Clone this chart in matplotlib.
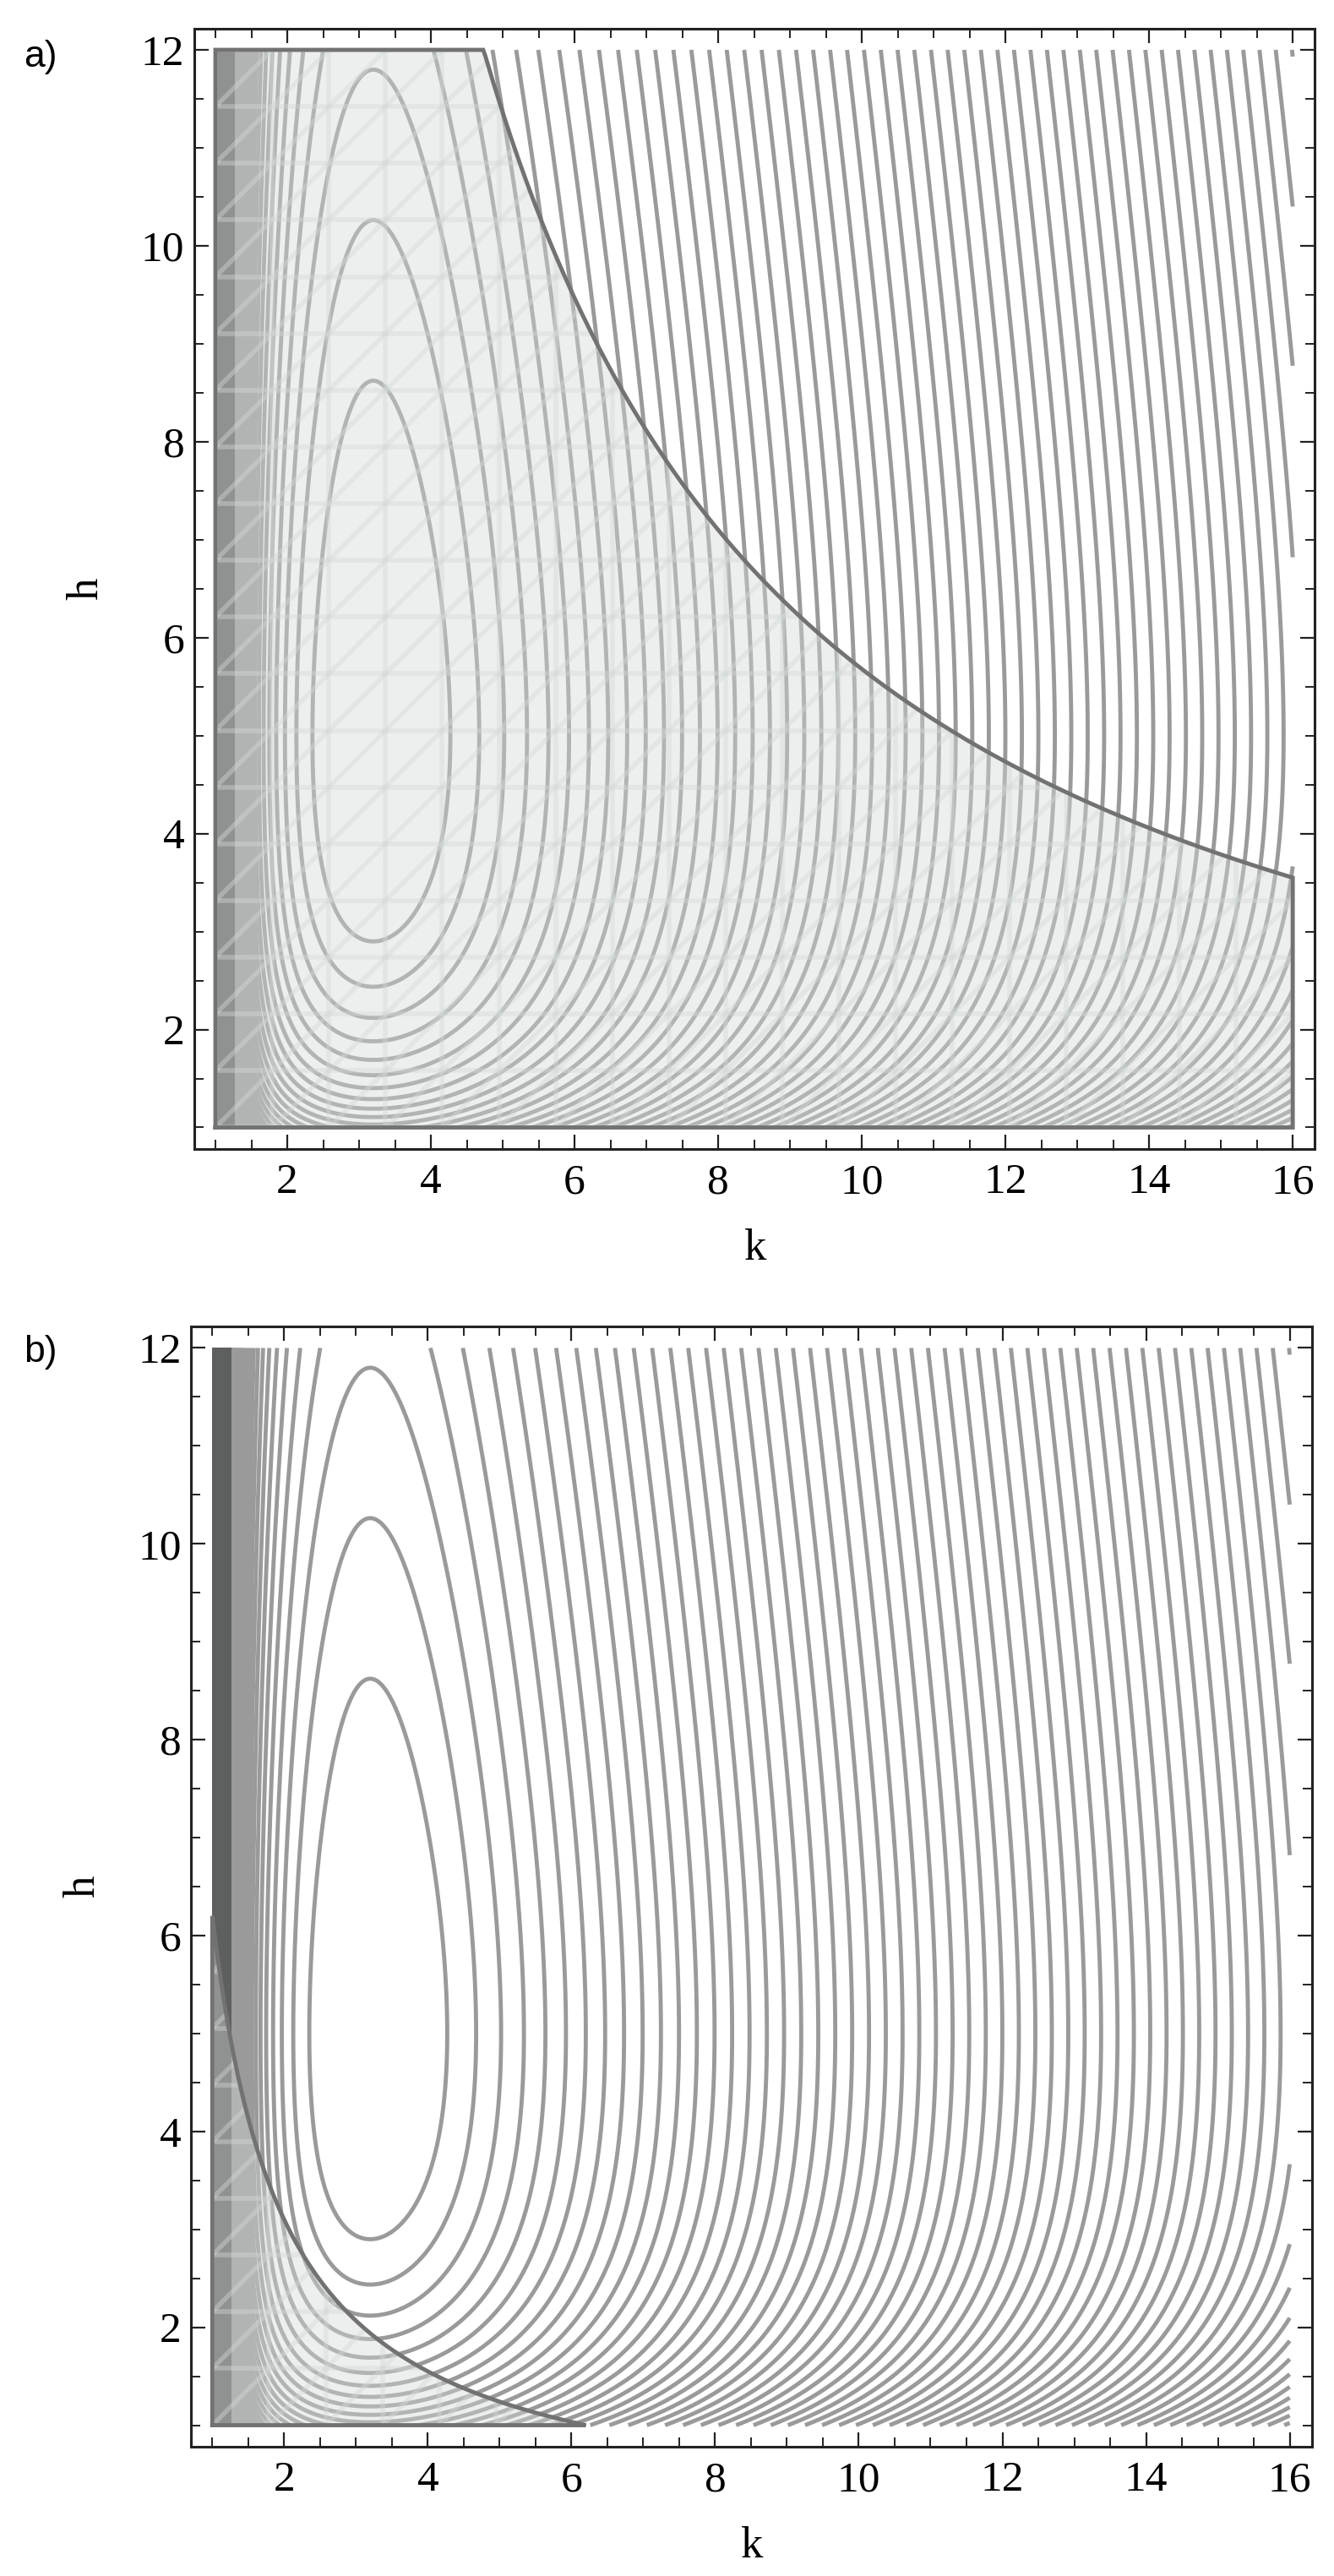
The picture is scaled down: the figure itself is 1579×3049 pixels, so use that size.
import numpy as np
import matplotlib.pyplot as plt
from matplotlib.patches import Polygon
from matplotlib.ticker import MultipleLocator

plt.rcParams['font.family'] = ['Liberation Serif', 'DejaVu Serif']
plt.rcParams['contour.negative_linestyle'] = 'solid'

# plot domain
k_range = [1.0, 16.0]
h_range = [1.0, 12.0]

# field shape (peak near k=3.2, h=5)
k_pole = 5.5        # steepness of the wall at k=1
k_slope = 4.5       # far-field slope in k (levels per unit k)
k_center = 2.65
k_soft = 2.1
h_peak = 5.0
h_width = 0.22

# contour levels: first closed contour sits 1.35 steps under the top
level_offset = 1.35
n_levels = 75

# saturated band next to k=1
dark_k = 1.27

# shaded regions h*k <= c, one per panel
panel_tags = ['a)', 'b)']
region_c = [56.8, 6.2]
mesh_nodes = 20

line_gray = '#9a9a9a'
dark_gray = '#5e605f'
fill_col = '#d3d9d6'
fill_alpha = 0.42
edge_col = '#727272'


def field(k, h):
    u = -k_pole / (k - 1.0) - k_slope * np.sqrt((k - k_center) ** 2 + k_soft ** 2)
    v = -np.log(h / h_peak) ** 2 / h_width
    return u + v


kk = np.linspace(k_range[0] + 1e-3, k_range[1], 1400)
hh = np.linspace(h_range[0], h_range[1], 900)
K, H = np.meshgrid(kk, hh)
F = field(K, H)
top = F.max()
levels = np.sort(top - level_offset - np.arange(n_levels))

fig = plt.figure(figsize=(15.79, 30.49), dpi=100)
positions = [[0.14535, 0.55395, 0.8404, 0.43506],
             [0.1430, 0.05018, 0.8405, 0.4349]]
tag_y = [0.9777, 0.4752]

for i, pos in enumerate(positions):
    ax = fig.add_axes(pos)
    ax.contour(K, H, F, levels=levels, colors=line_gray, linewidths=3.5,
               linestyles='solid', zorder=1)
    ax.fill_betweenx(h_range, k_range[0], dark_k, color=dark_gray, lw=0, zorder=1.5)

    # shaded region
    c = region_c[i]
    k_end = min(k_range[1], c / h_range[0])
    kb = np.linspace(k_range[0], k_end, 500)
    hb = np.minimum(h_range[1], c / kb)
    xs = np.r_[kb, kb[::-1], kb[0]]
    ys = np.r_[np.full_like(kb, h_range[0]), hb[::-1], h_range[0]]
    patch = Polygon(np.column_stack([xs, ys]), closed=True, facecolor=fill_col,
                    alpha=fill_alpha, edgecolor='none', zorder=2)
    ax.add_patch(patch)

    # region mesh (triangulated grid, seen through the translucent fill)
    kn = np.linspace(k_range[0], k_range[1], mesh_nodes)
    hn = np.linspace(h_range[0], h_range[1], mesh_nodes)
    mesh = []
    for x in kn:
        mesh += ax.plot([x, x], h_range, color=fill_col, alpha=fill_alpha, lw=4, zorder=2)
    for y in hn:
        mesh += ax.plot(k_range, [y, y], color=fill_col, alpha=fill_alpha, lw=4, zorder=2)
    dh = hn[1] - hn[0]
    slope = dh / (kn[1] - kn[0])
    for j in range(-mesh_nodes + 1, mesh_nodes):
        y0 = h_range[0] + j * dh
        mesh += ax.plot(k_range, [y0, y0 + slope * (k_range[1] - k_range[0])],
                        color=fill_col, alpha=fill_alpha, lw=4, zorder=2)
    for m in mesh:
        m.set_clip_path(patch)

    ax.plot(xs, ys, color=edge_col, lw=3.5, zorder=3, solid_joinstyle='miter')

    ax.set_xlim(0.7, 16.31)
    ax.set_ylim(0.78, 12.22)
    ax.xaxis.set_major_locator(MultipleLocator(2))
    ax.xaxis.set_minor_locator(MultipleLocator(0.5))
    ax.yaxis.set_major_locator(MultipleLocator(2))
    ax.yaxis.set_minor_locator(MultipleLocator(0.5))
    ax.tick_params(which='both', direction='in', top=True, right=True,
                   color='#222222', labelsize=37)
    ax.tick_params(which='major', length=12, width=1.6)
    ax.tick_params(which='minor', length=8, width=1.4)
    ax.tick_params(axis='x', pad=12)
    ax.tick_params(axis='y', pad=8)
    for s in ax.spines.values():
        s.set_linewidth(2.2)
        s.set_color('#222222')

    ax.set_xlabel('k', fontsize=38)
    ax.set_ylabel('h', fontsize=38)
    ax.xaxis.label.set_va('center')
    ax.yaxis.label.set_va('center')
    ax.xaxis.set_label_coords(0.5, -0.089)
    ax.yaxis.set_label_coords(-0.096, 0.5)

    fig.text(0.0175, tag_y[i], panel_tags[i], fontsize=32,
             family=['Liberation Sans', 'DejaVu Sans'], ha='left', va='center')

fig.savefig('out.png', dpi=100)
